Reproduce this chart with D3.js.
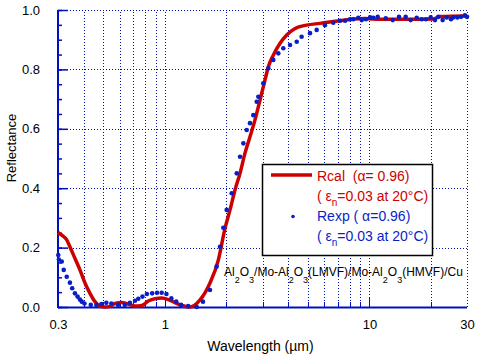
<!DOCTYPE html>
<html>
<head>
<meta charset="utf-8">
<script src="https://cdn.jsdelivr.net/npm/d3@7"></script>
<style>
  body { margin: 0; background: #fff; }
  svg text { font-family: "Liberation Sans", Arial, sans-serif; }
</style>
</head>
<body>
<svg id="chart"></svg>
<script>
// calculated reflectance (Rcal)
var rcalWl = [0.300, 0.313, 0.331, 0.343, 0.363, 0.384, 0.407, 0.430, 0.455, 0.481, 0.509, 0.539, 0.570,
  0.615, 0.660, 0.714, 0.770, 0.829, 0.894, 0.964, 1.039, 1.12, 1.208, 1.326, 1.485, 1.661, 1.824, 1.967,
  2.081, 2.201, 2.329, 2.463, 2.606, 2.757, 2.917, 3.085, 3.204, 3.388, 3.655, 3.94, 4.33, 4.93, 5.73,
  6.66, 8.04, 9.51, 11.26, 15.8, 20.5, 22.1, 30];
var rcalR = [0.251, 0.242, 0.226, 0.203, 0.164, 0.125, 0.080, 0.046, 0.018, 0.003, 0.0, 0.002, 0.012,
  0.015, 0.010, 0.003, 0.005, 0.020, 0.028, 0.030, 0.025, 0.015, 0.005, 0.0, 0.024, 0.081, 0.158, 0.265,
  0.327, 0.394, 0.450, 0.518, 0.573, 0.630, 0.697, 0.764, 0.809, 0.848, 0.888, 0.916, 0.938, 0.949, 0.955,
  0.961, 0.968, 0.971, 0.969, 0.969, 0.970, 0.978, 0.980];

// measured reflectance (Rexp)
var rexpWl = [0.301, 0.303, 0.313, 0.320, 0.331, 0.343, 0.352, 0.363, 0.374, 0.384, 0.392, 0.404, 0.434,
  0.462, 0.489, 0.517, 0.547, 0.590, 0.636, 0.674, 0.714, 0.741, 0.777, 0.816, 0.866, 0.915, 0.964, 1.017,
  1.075, 1.136, 1.200, 1.30, 1.43, 1.535, 1.661, 1.79, 1.859, 1.929, 2.004, 2.121, 2.244, 2.329, 2.418,
  2.511, 2.606, 2.705, 2.81, 2.862, 3.027, 3.204, 3.388, 3.585, 3.792, 4.09, 4.41, 4.66, 5.12, 5.52, 6.06,
  6.66, 7.18, 7.6, 8.04, 8.34, 8.82, 9.17, 9.62, 10.07, 10.45, 10.98, 12.02, 13.0, 13.95, 15.04, 15.91,
  17.03, 18.01, 18.9, 19.93, 20.92, 21.71, 22.8, 23.87, 25.05, 25.7, 26.9, 28.05, 29.3, 30.0];
var rexpR = [0.175, 0.160, 0.153, 0.125, 0.102, 0.082, 0.063, 0.046, 0.035, 0.025, 0.018, 0.012, 0.007,
  0.007, 0.010, 0.014, 0.012, 0.007, 0.007, 0.014, 0.021, 0.028, 0.035, 0.044, 0.046, 0.048, 0.048, 0.044,
  0.029, 0.018, 0.007, 0.003, 0.0, 0.018, 0.057, 0.136, 0.203, 0.267, 0.327, 0.383, 0.450, 0.506, 0.551,
  0.596, 0.619, 0.646, 0.691, 0.708, 0.753, 0.804, 0.832, 0.854, 0.871, 0.882, 0.893, 0.910, 0.922, 0.933, 0.949,
  0.957, 0.964, 0.964, 0.969, 0.969, 0.974, 0.966, 0.969, 0.975, 0.974, 0.977, 0.972, 0.966, 0.977, 0.977, 0.966,
  0.974, 0.969, 0.969, 0.975, 0.966, 0.977, 0.966, 0.975, 0.969, 0.975, 0.975, 0.977, 0.982, 0.977];

var xTickLabels = [0.3, 1, 10, 30];
var gridWl = [0.4, 0.5, 0.6, 0.7, 0.8, 0.9, 1, 2, 3, 4, 5, 6, 7, 8, 9, 10, 20, 30];
var yTicks = [0, 0.2, 0.4, 0.6, 0.8, 1.0];
var yMinorTicks = d3.range(0, 1.001, 0.05);

var screen = { width: 477, height: 359 };
var margins = { top: 10, bottom: 52, left: 58, right: 10 };

var axisBlue = "#0010c0";
var dotBlue = "#0a1ec8";
var lineRed = "#cc0000";

var svg = d3.select("#chart")
  .attr("width", screen.width)
  .attr("height", screen.height);

var xScale = d3.scaleLog()
  .domain([0.3, 30])
  .range([margins.left, screen.width - margins.right]);

var yScale = d3.scaleLinear()
  .domain([0, 1])
  .range([screen.height - margins.bottom, margins.top]);

var x0 = xScale.range()[0], x1 = xScale.range()[1];
var y0 = yScale.range()[0], y1 = yScale.range()[1];

// grid
var grid = svg.append("g")
  .attr("stroke", axisBlue)
  .attr("stroke-width", 1)
  .attr("stroke-dasharray", "1,2");

grid.selectAll(".vgrid")
  .data(gridWl)
  .enter()
  .append("line")
  .attr("x1", function(d) { return Math.round(xScale(d)) + 0.5; })
  .attr("x2", function(d) { return Math.round(xScale(d)) + 0.5; })
  .attr("y1", y0)
  .attr("y2", y1);

grid.selectAll(".hgrid")
  .data(yTicks.slice(1))
  .enter()
  .append("line")
  .attr("x1", x0)
  .attr("x2", x1)
  .attr("y1", function(d) { return Math.round(yScale(d)) + 0.5; })
  .attr("y2", function(d) { return Math.round(yScale(d)) + 0.5; });

// minor / major ticks on x axis (pointing up)
svg.append("g")
  .selectAll("line")
  .data(gridWl.slice(0, -1))
  .enter()
  .append("line")
  .attr("x1", function(d) { return Math.round(xScale(d)) + 0.5; })
  .attr("x2", function(d) { return Math.round(xScale(d)) + 0.5; })
  .attr("y1", y0)
  .attr("y2", function(d) { return (d == 1 || d == 10) ? y0 - 9 : y0 - 5; })
  .attr("stroke", axisBlue)
  .attr("stroke-width", 1);

// y axis
var yAxis = d3.axisLeft(yScale)
  .tickValues(yTicks)
  .tickSize(-10)
  .tickPadding(18)
  .tickFormat(d3.format(".1f"));

var yMinor = d3.axisLeft(yScale)
  .tickValues(yMinorTicks)
  .tickSize(-4)
  .tickFormat("");

var yMinorG = svg.append("g")
  .attr("transform", "translate(" + x0 + ",0)")
  .call(yMinor);

var yAxisG = svg.append("g")
  .attr("transform", "translate(" + x0 + ",0)")
  .call(yAxis);

[yAxisG, yMinorG].forEach(function(g) {
  g.select(".domain").remove();
  g.selectAll(".tick line").attr("stroke", axisBlue).attr("stroke-width", 1.5);
});
yAxisG.selectAll(".tick text")
  .attr("fill", "#000")
  .style("font-size", "13px");

// x axis labels
var xAxis = d3.axisBottom(xScale)
  .tickValues(xTickLabels)
  .tickSize(0)
  .tickPadding(13)
  .tickFormat(function(d) { return d; });

var xAxisG = svg.append("g")
  .attr("transform", "translate(0," + y0 + ")")
  .call(xAxis);
xAxisG.select(".domain").remove();
xAxisG.selectAll(".tick text")
  .attr("fill", "#000")
  .style("font-size", "13px");

// axis lines
svg.append("line")
  .attr("x1", x0).attr("x2", x0)
  .attr("y1", y1).attr("y2", y0 + 1)
  .attr("stroke", axisBlue).attr("stroke-width", 2);
svg.append("line")
  .attr("x1", x0).attr("x2", x1)
  .attr("y1", y0 + 0.5).attr("y2", y0 + 0.5)
  .attr("stroke", axisBlue).attr("stroke-width", 2);

// titles
svg.append("text")
  .attr("x", (x0 + x1) / 2 - 2)
  .attr("y", 351)
  .attr("text-anchor", "middle")
  .style("font-size", "14px")
  .text("Wavelength (\u00b5m)");

svg.append("text")
  .attr("transform", "translate(16,148) rotate(-90)")
  .attr("text-anchor", "middle")
  .style("font-size", "13px")
  .text("Reflectance");

// Rcal curve
var rcal = rcalWl.map(function(d, i) { return [d, rcalR[i]]; });
var line = d3.line()
  .x(function(d) { return xScale(d[0]); })
  .y(function(d) { return yScale(d[1]); })
  .curve(d3.curveMonotoneX);

svg.append("path")
  .datum(rcal)
  .attr("d", line)
  .attr("fill", "none")
  .attr("stroke", lineRed)
  .attr("stroke-width", 3.5);

// Rexp points
svg.append("g")
  .selectAll("circle")
  .data(rexpWl)
  .enter()
  .append("circle")
  .attr("cx", function(d) { return xScale(d); })
  .attr("cy", function(d, i) { return yScale(rexpR[i]); })
  .attr("r", 2.3)
  .attr("fill", dotBlue);

// structure label
var label = svg.append("text")
  .attr("x", 224)
  .attr("y", 276)
  .attr("fill", "#000")
  .style("font-size", "12px");
var parts = [["Al", 0], ["2", 1], ["O", 0], ["3", 1], ["/Mo-Al", 0], ["2", 1], ["O", 0], ["3", 1],
  ["(LMVF)/Mo-Al", 0], ["2", 1], ["O", 0], ["3", 1], ["(HMVF)/Cu", 0]];
var sub = false;
parts.forEach(function(p) {
  var t = label.append("tspan").text(p[0]);
  if (p[1] && !sub) { t.attr("dy", 7).style("font-size", "9px"); sub = true; }
  else if (!p[1] && sub) { t.attr("dy", -7); sub = false; }
});

// legend
var legend = svg.append("g");
legend.append("rect")
  .attr("x", 262.5).attr("y", 164.5)
  .attr("width", 170).attr("height", 91)
  .attr("fill", "#fff")
  .attr("stroke", "#000")
  .attr("stroke-width", 1.5);

legend.append("line")
  .attr("x1", 271).attr("x2", 312)
  .attr("y1", 175).attr("y2", 175)
  .attr("stroke", lineRed).attr("stroke-width", 3.5);

legend.append("circle")
  .attr("cx", 293).attr("cy", 216.5).attr("r", 1.8)
  .attr("fill", dotBlue);

function epsLine(y, color) {
  var t = legend.append("text")
    .attr("x", 317).attr("y", y)
    .attr("fill", color)
    .style("font-size", "14px");
  t.append("tspan").text("( \u03b5");
  t.append("tspan").attr("dy", 5).style("font-size", "10px").text("n");
  t.append("tspan").attr("dy", -5).text("=0.03 at 20\u00b0C)");
}

legend.append("text")
  .attr("x", 317).attr("y", 181)
  .attr("fill", lineRed)
  .style("font-size", "14px")
  .text("Rcal \u00a0(\u03b1= 0.96)");
epsLine(201, lineRed);
legend.append("text")
  .attr("x", 317).attr("y", 221)
  .attr("fill", dotBlue)
  .style("font-size", "14px")
  .text("Rexp ( \u03b1=0.96)");
epsLine(241, dotBlue);
</script>
</body>
</html>
